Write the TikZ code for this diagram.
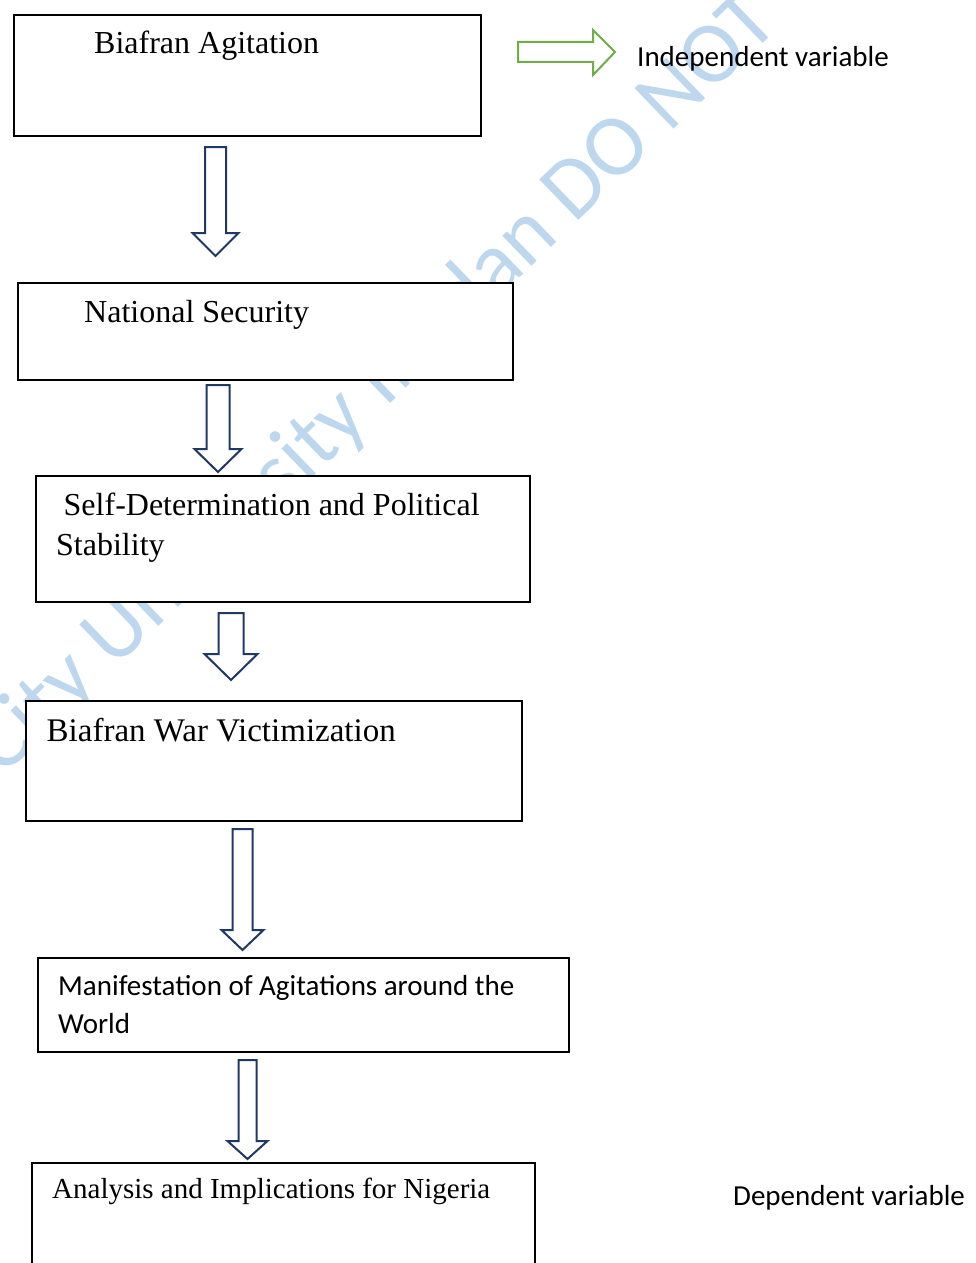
\documentclass[tikz,border=0pt]{standalone}
\usepackage{fontspec}
\setmainfont{Liberation Serif}
\newfontfamily\calibrifont{Carlito}
\definecolor{navyarrow}{HTML}{1F3864}
\definecolor{greenarrow}{HTML}{70AD47}
\definecolor{wmblue}{RGB}{189,215,238}
\newcommand{\downblock}[6]{%
  \draw[blockarrow] (#1-#4,#2) -- (#1+#4,#2) -- (#1+#4,#6) -- (#1+#5,#6)
    -- (#1,#3) -- (#1-#5,#6) -- (#1-#4,#6) -- cycle;}
\begin{document}
\begin{tikzpicture}[x=1pt,y=-1pt,
  box/.style={draw=black,fill=white,line width=1.8pt,rectangle,inner sep=0pt,anchor=north west},
  serif/.style={inner sep=0pt,anchor=base west,font=\fontsize{32}{38}\selectfont},
  sans/.style={inner sep=0pt,anchor=base west,font=\calibrifont\fontsize{29}{36}\selectfont},
  blockarrow/.style={draw=navyarrow,line width=2pt,fill=white,line join=miter},
  greenblock/.style={draw=greenarrow,line width=2pt,fill=white,line join=miter}]
\clip (0,0) rectangle (975,1263);
\fill[white] (0,0) rectangle (975,1263);
% watermark
\node[inner sep=0pt,anchor=base west,rotate=44,text=wmblue,
  font=\calibrifont\fontsize{87.6}{90}\selectfont] (wm) at (2,778)
  {City University Ibadan DO NOT COPY};
% boxes
\node[box,minimum width=467pt,minimum height=121pt] (b1) at (13,14) {};
\node[box,minimum width=495pt,minimum height=97pt] (b2) at (17,282) {};
\node[box,minimum width=494pt,minimum height=126pt] (b3) at (35,475) {};
\node[box,minimum width=496pt,minimum height=120pt] (b4) at (25,700) {};
\node[box,minimum width=531pt,minimum height=94pt] (b5) at (37,957) {};
\node[box,minimum width=503pt,minimum height=160pt] (b6) at (31,1162) {};
% texts
\node[serif] (t1) at (94,53.5) {Biafran Agitation};
\node[serif] (t2) at (84,322) {National Security};
\node[serif] (t3a) at (63.5,515) {Self-Determination and Political};
\node[serif] (t3b) at (56,555) {Stability};
\node[serif,font=\fontsize{33}{38}\selectfont] (t4) at (46.5,741) {Biafran War Victimization};
\node[sans] (t5a) at (58,995) {Manifestation of Agitations around the};
\node[sans] (t5b) at (58,1033) {World};
\node[serif,font=\fontsize{29}{34}\selectfont] (t6) at (52,1198) {Analysis and Implications for Nigeria};
\node[sans] (indep) at (637,66.5) {Independent variable};
\node[sans] (dep) at (733,1205.5) {Dependent variable};
% block arrows between boxes
\downblock{215.5}{147}{256}{10.5}{23}{233}
\downblock{218}{385}{472}{11.5}{23.5}{449}
\downblock{231}{613}{680}{12.5}{26.5}{654}
\downblock{242.5}{829}{950}{10}{21}{930}
\downblock{247.5}{1060}{1159}{9}{20}{1141}
% legend arrow
\draw[greenblock] (518,42) -- (593,42) -- (593,30) -- (615,52) -- (593,75)
  -- (593,62) -- (518,62) -- cycle;
\end{tikzpicture}
\end{document}
